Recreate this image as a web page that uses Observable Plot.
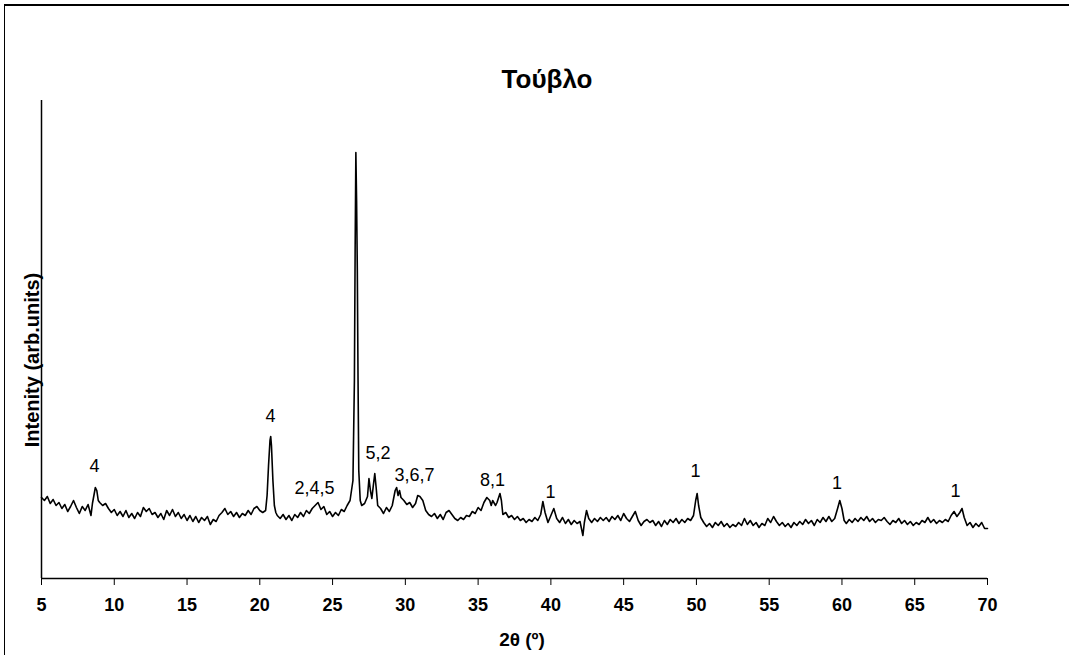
<!DOCTYPE html>
<html>
<head>
<meta charset="utf-8">
<script src="https://cdn.jsdelivr.net/npm/d3@7"></script>
<script src="https://cdn.jsdelivr.net/npm/@observablehq/plot@0.6"></script>
<style>
  html, body { margin: 0; padding: 0; background: #fff; }
  #wrap { position: relative; width: 1069px; height: 655px; overflow: hidden; font-family: "Liberation Sans", Arial, sans-serif; color: #000; }
  #wrap svg { position: absolute; left: 0; top: 0; }
  .frameTop { position: absolute; left: 4px; top: 4px; width: 1065px; height: 2px; background: #000; }
  .frameLeft { position: absolute; left: 4px; top: 4px; width: 1px; height: 651px; background: #000; }
  .title { position: absolute; top: 66px; left: 247px; width: 600px; text-align: center; font-weight: bold; font-size: 26px; line-height: 1; }
  .xlabel { position: absolute; top: 630px; left: 372px; width: 300px; text-align: center; font-weight: bold; font-size: 19px; line-height: 1; }
  .ylabel { position: absolute; left: -118px; top: 350px; width: 300px; height: 20px; text-align: center; font-weight: bold; font-size: 20px; line-height: 20px; transform: rotate(-90deg); transform-origin: 50% 50%; white-space: nowrap; }
</style>
</head>
<body>
<div id="wrap">
  <div class="frameTop"></div>
  <div class="frameLeft"></div>
  <div class="title">Τούβλο</div>
  <div class="ylabel">Intenity (arb.units)</div>
  <div class="xlabel">2θ (º)</div>
</div>
<script>
// 2θ (degrees)
const twoTheta = [
  5.0,5.2,5.4,5.6,5.8,6.0,6.2,6.4,6.6,6.8,7.0,7.2,7.4,7.6,7.8,8.0,8.2,8.4,8.5,8.6,8.7,8.8,8.9,
  9.0,9.2,9.4,9.6,9.8,10.0,10.2,10.4,10.6,10.8,11.0,11.2,11.4,11.6,11.8,12.0,12.2,12.4,12.6,12.8,
  13.0,13.2,13.4,13.6,13.8,14.0,14.2,14.4,14.6,14.8,15.0,15.2,15.4,15.6,15.8,16.0,16.2,16.4,16.6,16.8,
  17.0,17.2,17.4,17.6,17.8,18.0,18.2,18.4,18.6,18.8,19.0,19.2,19.4,19.6,19.8,20.0,20.2,20.4,
  20.5,20.6,20.7,20.75,20.8,20.9,21.0,21.1,21.2,21.4,21.6,21.8,22.0,22.2,22.4,22.6,22.8,
  23.0,23.2,23.4,23.6,23.8,24.0,24.2,24.4,24.6,24.8,25.0,25.2,25.4,25.6,25.8,26.0,26.2,26.4,
  26.5,26.55,26.6,26.65,26.7,26.75,26.8,26.9,27.0,27.2,27.4,27.5,27.6,27.7,27.8,27.9,28.0,28.1,
  28.3,28.5,28.7,28.9,29.1,29.3,29.4,29.5,29.6,29.7,29.9,30.1,30.3,30.5,30.7,30.85,31.0,31.2,
  31.4,31.6,31.8,32.0,32.2,32.4,32.6,32.8,33.0,33.2,33.4,33.6,33.8,34.0,34.2,34.4,34.6,34.8,
  35.0,35.2,35.4,35.6,35.8,35.9,36.0,36.2,36.3,36.5,36.6,36.7,36.9,37.1,37.3,37.5,37.7,37.9,
  38.1,38.3,38.5,38.7,38.9,39.1,39.3,39.45,39.6,39.8,40.0,40.2,40.4,40.6,40.8,41.0,41.2,41.4,
  41.6,41.8,42.0,42.2,42.3,42.45,42.6,42.8,43.0,43.2,43.4,43.6,43.8,44.0,44.2,44.4,44.6,44.8,
  45.0,45.2,45.4,45.6,45.8,46.0,46.2,46.4,46.6,46.8,47.0,47.2,47.4,47.6,47.8,48.0,48.2,48.4,
  48.6,48.8,49.0,49.2,49.4,49.6,49.8,49.95,50.05,50.15,50.3,50.5,50.7,50.9,51.1,51.3,51.5,51.7,
  51.9,52.1,52.3,52.5,52.7,52.9,53.1,53.3,53.5,53.7,53.9,54.1,54.3,54.5,54.7,54.9,55.1,55.3,
  55.5,55.7,55.9,56.1,56.3,56.5,56.7,56.9,57.1,57.3,57.5,57.7,57.9,58.1,58.3,58.5,58.7,58.9,
  59.1,59.3,59.5,59.7,59.85,60.0,60.15,60.3,60.5,60.7,60.9,61.1,61.3,61.5,61.7,61.9,62.1,62.3,
  62.5,62.7,62.9,63.1,63.3,63.5,63.7,63.9,64.1,64.3,64.5,64.7,64.9,65.1,65.3,65.5,65.7,65.9,
  66.1,66.3,66.5,66.7,66.9,67.1,67.3,67.5,67.7,67.9,68.1,68.25,68.4,68.6,68.8,69.0,69.2,69.4,
  69.6,69.8,70.0
];
// Intensity (arbitrary units)
const intensity = [
  81,78,82,75,79,73,76,70,74,67,72,78,71,65,72,68,74,63,75,83,91,88,78,
  76,73,75,70,66,69,63,67,62,68,61,65,60,66,62,71,67,70,64,66,
  61,65,59,68,63,69,62,66,60,64,58,63,57,62,56,61,58,62,54,59,
  57,63,66,70,64,67,62,66,61,65,63,68,64,70,72,68,66,68,
  83,113,138,142,133,98,73,66,63,60,64,59,63,58,64,61,66,
  62,68,65,70,73,76,69,72,64,67,62,66,63,69,67,73,78,98,
  198,328,426,378,308,198,108,78,73,75,82,100,88,80,93,105,90,73,
  70,65,71,67,73,88,91,83,88,81,78,74,76,71,75,83,82,78,
  68,64,62,65,60,64,59,66,68,64,60,58,61,59,63,62,67,65,
  71,68,76,81,78,73,78,73,76,85,78,64,66,61,63,59,62,58,
  60,56,59,57,61,58,64,77,66,56,63,70,60,56,61,55,59,54,
  58,55,57,43,56,68,60,56,60,57,61,58,61,57,62,59,63,58,
  65,60,57,62,67,58,53,57,59,56,58,53,57,52,58,54,59,56,
  60,55,59,56,60,58,63,78,85,73,61,56,52,55,51,56,53,57,
  52,55,51,54,52,56,53,60,54,58,53,56,51,55,53,60,56,62,
  57,53,56,52,55,51,56,53,57,54,59,55,58,53,59,56,61,57,
  62,57,60,70,78,70,58,55,59,56,60,57,61,58,62,57,60,56,
  59,58,61,57,54,58,56,60,55,58,54,57,53,56,54,58,56,61,
  56,59,55,58,56,59,57,63,67,62,66,70,61,53,56,51,55,52,
  56,50,50
];
// Peak annotations
const peakLabels = ["4","4","2,4,5","5,2","3,6,7","8,1","1","1","1","1"];
const peakX = [8.64, 20.73, 23.76, 28.12, 30.63, 35.99, 39.97, 49.94, 59.66, 67.80];
const peakY = [112, 162, 90, 125, 103, 98, 86.5, 107, 95, 87];
const xTicks = [5,10,15,20,25,30,35,40,45,50,55,60,65,70];

const pattern = twoTheta.map((t, i) => ({t, v: intensity[i]}));
const labels = peakLabels.map((s, i) => ({s, x: peakX[i], y: peakY[i]}));

const chart = Plot.plot({
  width: 1069,
  height: 655,
  marginLeft: 41,
  marginRight: 82,
  marginTop: 100,
  marginBottom: 77,
  style: {fontFamily: "'Liberation Sans', Arial, sans-serif", background: "transparent", color: "#000"},
  x: {domain: [5, 70], axis: null},
  y: {domain: [0, 478], axis: null},
  marks: [
    Plot.axisX({ticks: xTicks, tickSize: 7, tickPadding: 13, fontSize: 18, fontWeight: "bold", label: null, stroke: "#000", fill: "#000"}),
    Plot.lineY(pattern, {x: "t", y: "v", stroke: "#000", strokeWidth: 1.6}),
    Plot.ruleX([5], {stroke: "#000", strokeWidth: 1.5}),
    Plot.ruleY([0], {stroke: "#000", strokeWidth: 1.5}),
    Plot.text(labels, {x: "x", y: "y", text: "s", fontSize: 18, fill: "#000", textAnchor: "middle", lineAnchor: "middle"})
  ]
});
document.getElementById("wrap").prepend(chart);
</script>
</body>
</html>
